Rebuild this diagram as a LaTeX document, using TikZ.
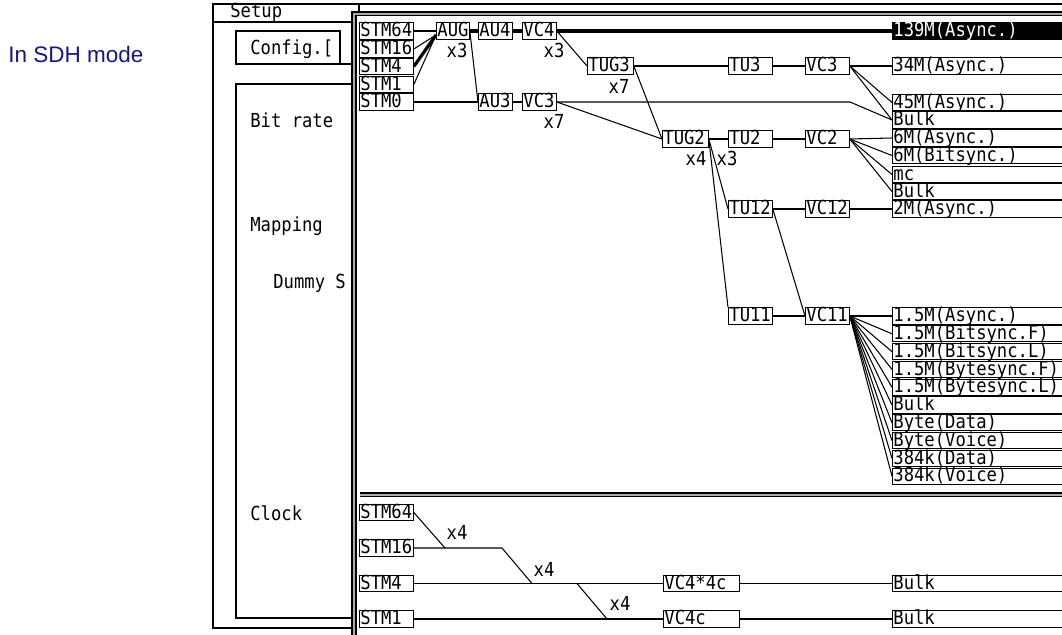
\documentclass[tikz,border=0pt]{standalone}
\usepackage{fontspec}
\usepackage{tikz}
\usetikzlibrary{positioning,calc}
\newfontfamily\uifont[FakeStretch=0.89]{DejaVu Sans Mono}
\newfontfamily\webfont{Liberation Sans}
\definecolor{sdhblue}{RGB}{20,20,140}
\definecolor{wingray}{RGB}{170,170,170}

\begin{document}
\begin{tikzpicture}[
  x=0.02cm, y=-0.02cm,
  ui/.style={font=\uifont\fontsize{11}{12}\selectfont},
  blk/.style={draw,ui,anchor=west,line width=0.6pt,inner xsep=0.5pt,inner ysep=0.25pt,
              text height=7.6pt,text depth=1.2pt,text width=#1,align=left},
  row/.style={blk=3.8cm},
  sel/.style={blk=3.8cm,fill=black,text=white},
  mult/.style={ui,inner sep=0pt},
  lbl/.style={ui,anchor=base west,inner sep=0pt},
  ln/.style={line width=0.6pt},
  bold/.style={line width=1.8pt},
  win/.style={line width=0.7pt}
]
\useasboundingbox (0,0) rectangle (1062,635);
\clip (0,0) rectangle (1062,635);

%% ── caption ──────────────────────────────────────────────────────────────────
\node[font=\webfont\fontsize{12.8}{14}\selectfont,text=sdhblue,anchor=base west,inner sep=0pt]
  (mode) at (8,63) {In SDH mode};

%% ── Setup window (left panel) ────────────────────────────────────────────────
\draw[win] (1070,4) -- (213,4) -- (213,628) -- (352,628);
\draw[win] (213,22) -- (352,22);
\draw[win] (359,4) -- (359,12);
\draw[win] (236,31) rectangle (340,64);
\draw[win] (340,64) -- (352,64);
\draw[win] (352,84) -- (236,84) -- (236,618) -- (352,618);
\node[lbl] (setup) at (230,18)  {Setup};
\node[lbl] (cfg)   at (250,55)  {Config.[};
\node[lbl] (rate)  at (250,128) {Bit rate};
\node[lbl] (map)   at (250,232) {Mapping};
\node[lbl] (dummy) at (273,288) {Dummy S};
\node[lbl] (clk)   at (250,520) {Clock};

%% ── mapping window: double border and separator ──────────────────────────────
\fill[wingray] (352,640) -- (352,12) -- (1070,12) -- (1070,15.5) -- (356,15.5) -- (356,640) -- cycle;
\draw[win] (352,640) -- (352,12) -- (1070,12);
\draw[win] (356,640) -- (356,15.5) -- (1070,15.5);
\fill[wingray] (360,493) rectangle (1070,496.5);
\draw[win] (360,493) -- (1070,493);
\draw[win] (360,496.5) -- (1070,496.5);

%% ── Row 1: STM stack and AU path ─────────────────────────────────────────────
\node[blk=1.04cm] (s64)  at (359,31)   {STM64};
\node[blk=1.04cm] (s16)  at (359,49)   {STM16};
\node[blk=1.04cm] (s4)   at (359,66.5) {STM4};
\node[blk=1.04cm] (s1)   at (359,84.5) {STM1};
\node[blk=1.04cm] (s0)   at (359,102)  {STM0};
\node[blk=0.62cm] (aug)  at (436,31)   {AUG};
\node[blk=0.64cm] (au4)  at (478,31)   {AU4};
\node[blk=0.64cm] (vc4)  at (522,31)   {VC4};
\node[blk=0.64cm] (au3)  at (478,102)  {AU3};
\node[blk=0.64cm] (vc3a) at (522,102)  {VC3};

%% ── TUG / TU / VC columns ────────────────────────────────────────────────────
\node[blk=0.88cm] (tug3) at (587,66)   {TUG3};
\node[blk=0.88cm] (tug2) at (662,139)  {TUG2};
\node[blk=0.84cm] (tu3)  at (728,66)   {TU3};
\node[blk=0.84cm] (vc3b) at (805,66)   {VC3};
\node[blk=0.84cm] (tu2)  at (728,139)  {TU2};
\node[blk=0.84cm] (vc2)  at (805,139)  {VC2};
\node[blk=0.84cm] (tu12) at (728,209)  {TU12};
\node[blk=0.84cm] (vc12) at (805,209)  {VC12};
\node[blk=0.84cm] (tu11) at (728,316)  {TU11};
\node[blk=0.84cm] (vc11) at (805,316)  {VC11};

%% ── multipliers ──────────────────────────────────────────────────────────────
\node[mult] (naug)  at (457,50)  {x3};
\node[mult] (nvc4)  at (554,50)  {x3};
\node[mult] (ntug3) at (619,86)  {x7};
\node[mult] (nvc3)  at (554,121) {x7};
\node[mult] (ntug2) at (696,158) {x4};
\node[mult] (ntu2)  at (727,158) {x3};

%% ── payload rows (right) ─────────────────────────────────────────────────────
\node[sel] (o139) at (892,31)    {139M(Async.)};
\node[row] (o34)  at (892,66)    {34M(Async.)};
\node[row] (o45)  at (892,102.5) {45M(Async.)};
\node[row] (obk1) at (892,120)   {Bulk};
\node[row] (o6a)  at (892,138)   {6M(Async.)};
\node[row] (o6b)  at (892,155.5) {6M(Bitsync.)};
\node[row] (omc)  at (892,174.5) {mc};
\node[row] (obk2) at (892,191.5) {Bulk};
\node[row] (o2m)  at (892,209)   {2M(Async.)};

%% ── connectors: STM -> AUG -> AU -> VC ───────────────────────────────────────
\coordinate (augin) at ($(aug.west)+(0,4)$);
\coordinate (knee)  at (850,102);
\draw[ln]   (s64.east) -- (aug.west);
\draw[ln]   (s16.east) -- (augin);
\draw[bold] (s4.east)  -- (augin);
\draw[ln]   (s1.east)  -- (augin);
\draw[ln]   (s0.east)  -- (au3.west);
\draw[bold] (aug.east) -- (au4.west);
\draw[bold] (au4.east) -- (vc4.west);
\draw[bold] (vc4.east) -- (o139.west);
\draw[ln]   (aug.east) -- (au3.west);
\draw[ln]   (au3.east) -- (vc3a.west);
\draw[ln]   (vc3a.east) -- (knee) -- (obk1.west);
\draw[ln]   (vc4.east) -- (tug3.west);
\draw[ln]   (vc3a.east) -- (tug2.west);

%% ── TUG3 / TUG2 branches ─────────────────────────────────────────────────────
\draw[ln] (tug3.east) -- (tu3.west);
\draw[ln] (tu3.east)  -- (vc3b.west);
\draw[ln] (vc3b.east) -- (o34.west);
\draw[ln] (vc3b.east) -- (o45.west);
\draw[ln] (vc3b.east) -- (obk1.west);
\draw[ln] (tug3.east) -- (tug2.west);
\draw[ln] (tug2.east) -- (tu2.west);
\draw[ln] (tu2.east)  -- (vc2.west);
\draw[ln] (vc2.east)  -- (o6a.west);
\draw[ln] (vc2.east)  -- (o6b.west);
\draw[ln] (vc2.east)  -- (omc.west);
\draw[ln] (vc2.east)  -- (obk2.west);
\draw[ln] (tug2.east) -- (tu12.west);
\draw[ln] (tug2.east) -- (tu11.north west);
\draw[ln] (tu12.east) -- (vc12.west);
\draw[ln] (vc12.east) -- (o2m.west);
\draw[ln] (tu12.east) -- (vc11.west);
\draw[ln] (tu11.east) -- (vc11.west);

%% ── VC11 fan-out ─────────────────────────────────────────────────────────────
\foreach \txt [count=\i] in {1.5M(Async.),1.5M(Bitsync.F),1.5M(Bitsync.L),
    1.5M(Bytesync.F),1.5M(Bytesync.L),Bulk,Byte(Data),Byte(Voice),384k(Data),384k(Voice)}{
  \node[row] (v\i) at (892,{316+(\i-1)*17.8}) {\txt};
  \draw[ln] (vc11.east) -- (v\i.west);
}

%% ── Clock section ────────────────────────────────────────────────────────────
\node[blk=1.04cm] (c64)   at (359,512.5) {STM64};
\node[blk=1.04cm] (c16)   at (359,548)   {STM16};
\node[blk=1.04cm] (c4)    at (359,583.5) {STM4};
\node[blk=1.04cm] (c1)    at (359,619)   {STM1};
\node[blk=1.48cm] (cvc44) at (663,583.5) {VC4*4c};
\node[blk=1.48cm] (cvc4)  at (663,619)   {VC4c};
\node[row]        (cbk1)  at (892,583.5) {Bulk};
\node[row]        (cbk2)  at (892,619)   {Bulk};
\node[mult] (nc1) at (457,532) {x4};
\node[mult] (nc2) at (544,569) {x4};
\node[mult] (nc3) at (620,603) {x4};

\coordinate (j1) at (445,548);
\coordinate (j2) at (502,548);
\coordinate (j3) at (532,583.5);
\coordinate (j4) at (577,583.5);
\coordinate (j5) at (607,619);
\draw[ln] (c64.east) -- (j1);
\draw[ln] (c16.east) -- (j2) -- (j3);
\draw[ln] (c4.east) -- (cvc44.west);
\draw[ln] (j4) -- (j5);
\draw[ln] (c1.east) -- (cvc4.west);
\draw[ln] (cvc44.east) -- (cbk1.west);
\draw[ln] (cvc4.east) -- (cbk2.west);
\end{tikzpicture}
\end{document}
